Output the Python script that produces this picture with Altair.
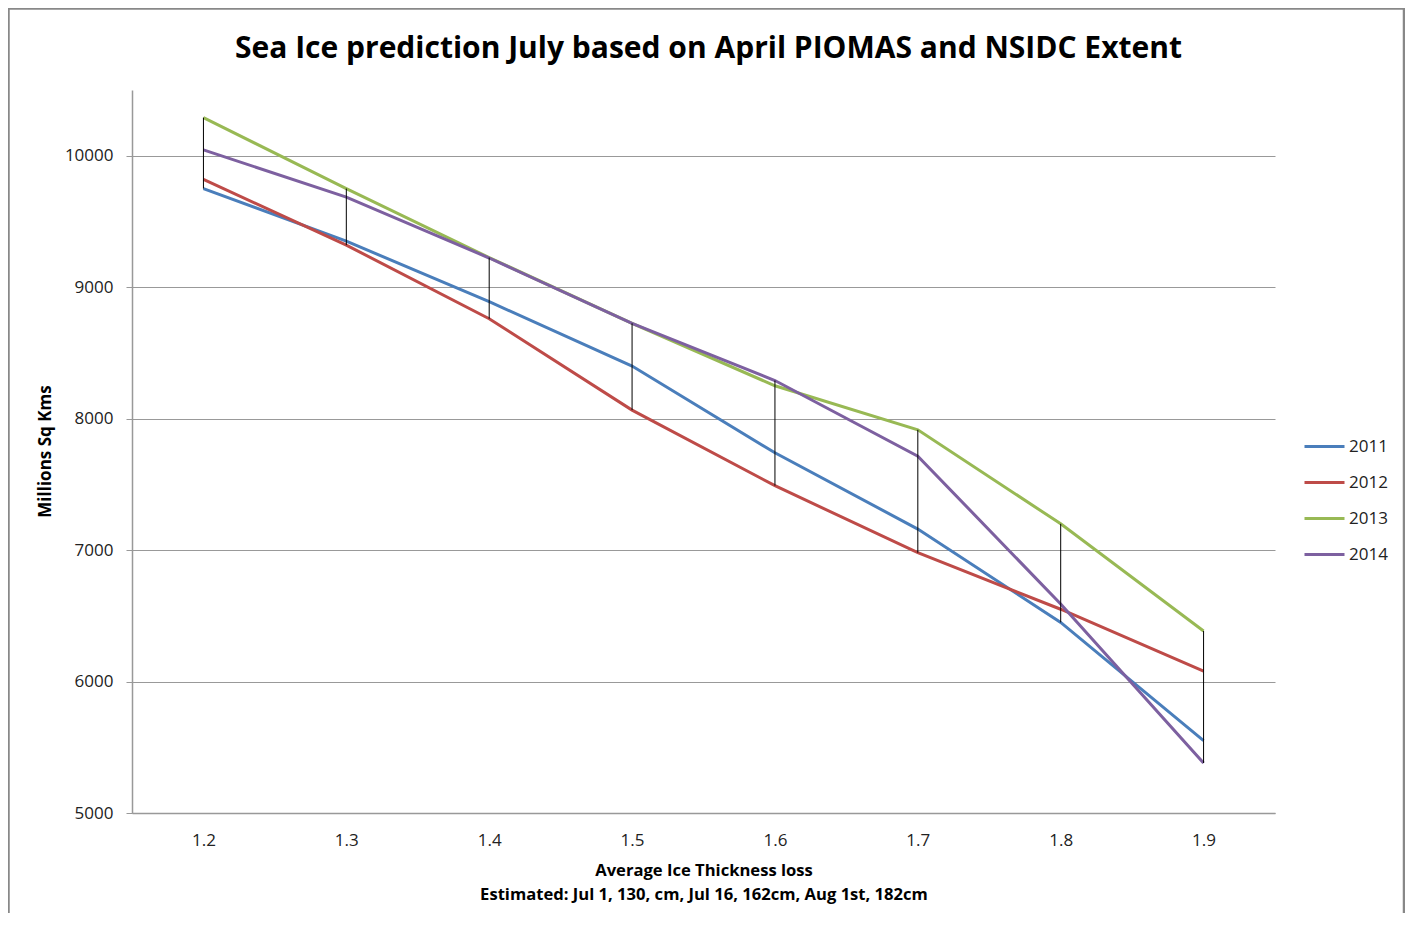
import altair as alt
import pandas as pd

thickness = ["1.2", "1.3", "1.4", "1.5", "1.6", "1.7", "1.8", "1.9"]
years = ["2011", "2012", "2013", "2014"]
v2011 = [9750, 9350, 8890, 8400, 7740, 7160, 6450, 5550]
v2012 = [9820, 9320, 8760, 8065, 7490, 6980, 6550, 6080]
v2013 = [10290, 9750, 9225, 8725, 8250, 7915, 7200, 6385]
v2014 = [10045, 9685, 9222, 8725, 8290, 7715, 6590, 5380]
y_ticks = [5000, 6000, 7000, 8000, 9000, 10000]
colors = ["#4A7EBB", "#BE4B48", "#98B954", "#7D60A0"]

rows = []
for yr, vals in zip(years, [v2011, v2012, v2013, v2014]):
    for t, v in zip(thickness, vals):
        rows.append({"thickness": t, "year": yr, "value": v})
df = pd.DataFrame(rows)

TICK_FONT = "Open Sans"
BOLD_FONT = "Open Sans"

xenc = alt.X(
    "thickness:O",
    sort=thickness,
    scale=alt.Scale(type="point", padding=0.5),
    axis=alt.Axis(
        title=["Average Ice Thickness loss", "Estimated: Jul 1, 130, cm, Jul 16, 162cm, Aug 1st, 182cm"],
        labelAngle=0,
        ticks=False,
        labelPadding=19,
        labelFont=TICK_FONT,
        labelFontSize=17,
        labelColor="#222",
        titleFont=BOLD_FONT,
        titleFontSize=16.6,
        titleFontWeight="bold",
        titleLineHeight=24,
        titlePadding=14,
        titleColor="#000",
        domainColor="#999",
        domainWidth=1.5,
        grid=False,
    ),
)

yenc = alt.Y(
    "value:Q",
    scale=alt.Scale(domain=[5000, 10500], nice=False, zero=False),
    axis=alt.Axis(
        title="Millions Sq Kms",
        values=y_ticks,
        format="d",
        grid=True,
        gridColor="#999",
        gridWidth=1.2,
        tickColor="#999",
        tickSize=6,
        labelPadding=13,
        labelFont=TICK_FONT,
        labelFontSize=17,
        labelColor="#222",
        titleFont=BOLD_FONT,
        titleFontSize=17,
        titleFontWeight="bold",
        titleColor="#000",
        titleAngle=270,
        titleX=-87,
        titleY=361,
        titleAlign="center",
        titleBaseline="middle",
        domainColor="#999",
        domainWidth=1.5,
    ),
)

hilo = alt.Chart(df).transform_aggregate(
    lo="min(value)", hi="max(value)", groupby=["thickness"]
).mark_rule(color="#000", strokeWidth=1).encode(
    x=alt.X("thickness:O", sort=thickness, scale=alt.Scale(type="point", padding=0.5)),
    y=alt.Y("lo:Q"),
    y2="hi:Q",
)

lines = alt.Chart(df).mark_line(strokeWidth=3).encode(
    x=xenc,
    y=yenc,
    color=alt.Color(
        "year:N",
        scale=alt.Scale(domain=years, range=colors),
        legend=alt.Legend(
            title=None,
            orient="none",
            legendX=1171,
            legendY=335,
            symbolType="stroke",
            symbolSize=1600,
            symbolStrokeWidth=3,
            labelFont=TICK_FONT,
            labelFontSize=17,
            labelColor="#222",
            labelOffset=3,
            rowPadding=6,
        ),
    ),
)

border_df = pd.DataFrame({"k": [0]})
left_border = alt.Chart(border_df).mark_rule(color="#888", strokeWidth=2.5, clip=False).encode(
    x=alt.value(-123.5), y=alt.value(-82), y2=alt.value(900)
)
top_border = alt.Chart(border_df).mark_rule(color="#888", strokeWidth=2.5, clip=False).encode(
    x=alt.value(-124), x2=alt.value(1273), y=alt.value(-81.5)
)
right_border = alt.Chart(border_df).mark_rule(color="#888", strokeWidth=2.5, clip=False).encode(
    x=alt.value(1272), y=alt.value(-82), y2=alt.value(900)
)

chart = alt.layer(lines, hilo, left_border, top_border, right_border).properties(
    width=1143,
    height=723,
    background="white",
    title=alt.TitleParams(
        "Sea Ice prediction July based on April PIOMAS and NSIDC Extent",
        font=BOLD_FONT,
        fontSize=30,
        fontWeight="bold",
        color="#000",
        anchor="middle",
        frame="group",
        baseline="alphabetic",
        offset=0,
        dy=81,
        dx=5,
    ),
    padding={"left": 124, "top": 82, "right": 130, "bottom": 100},
    autosize=alt.AutoSizeParams(type="none"),
).configure_view(stroke=None)

chart.save("out.html", embed_options={"renderer": "svg", "actions": False})
